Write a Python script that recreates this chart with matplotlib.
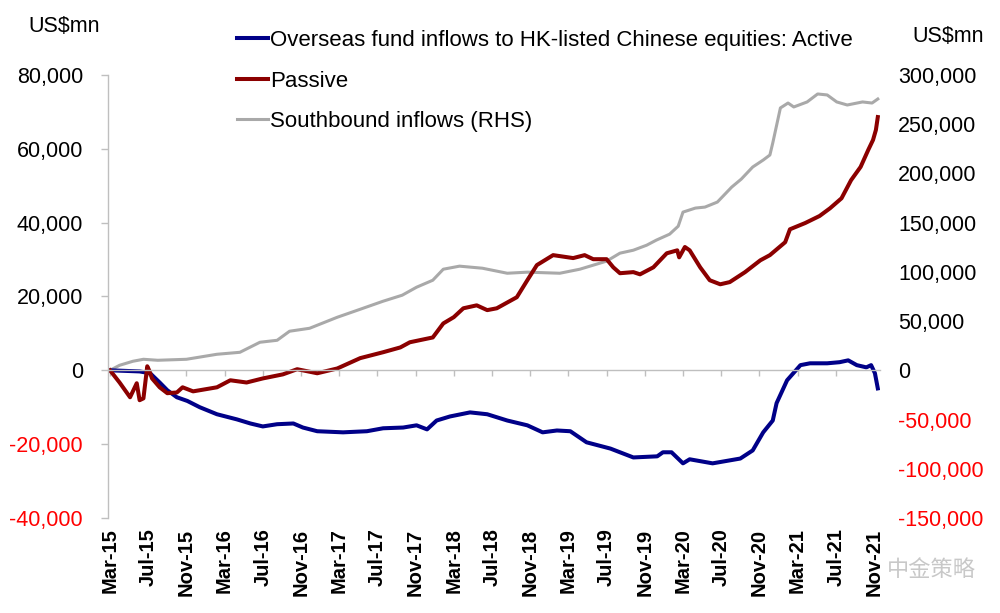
import matplotlib
matplotlib.use("Agg")
import matplotlib.pyplot as plt
import matplotlib.transforms as mtransforms
import numpy as np

# ---------------- data (x = months since Mar-2015) ----------------
x_labels = ["Mar-15", "Jul-15", "Nov-15", "Mar-16", "Jul-16", "Nov-16", "Mar-17",
            "Jul-17", "Nov-17", "Mar-18", "Jul-18", "Nov-18", "Mar-19", "Jul-19",
            "Nov-19", "Mar-20", "Jul-20", "Nov-20", "Mar-21", "Jul-21", "Nov-21"]
x_label_months = [0, 4, 8, 12, 16, 20, 24, 28, 32, 36, 40, 44, 48, 52, 56, 60, 64, 68, 72, 76, 80]

active_m = [0.0, 3.1, 4.2, 5.2, 6.0, 7.0, 8.1, 9.4, 11.2, 13.3, 14.7, 16.0, 17.5, 19.2,
            20.2, 21.7, 24.4, 26.9, 28.6, 30.7, 32.1, 33.2, 34.2, 35.6, 37.7, 39.5,
            41.6, 43.7, 45.3, 46.8, 48.2, 49.9, 52.4, 54.8, 57.3, 57.9, 58.8, 60.0,
            60.7, 63.1, 66.0, 67.3, 68.4, 69.4, 69.8, 70.9, 72.3, 73.3, 75.1, 76.4,
            77.3, 78.2, 79.2, 79.7, 80.1, 80.4]
active_v = [0, -300, -800, -3300, -5400, -7300, -8300, -10000, -11900, -13300, -14400,
            -15200, -14600, -14400, -15500, -16500, -16800, -16500, -15700, -15500,
            -14900, -16000, -13600, -12500, -11400, -11900, -13600, -14900, -16800,
            -16300, -16500, -19500, -21200, -23600, -23300, -22200, -22200, -25200,
            -24100, -25200, -23900, -21700, -16800, -13600, -8900, -2700, 1400, 1900,
            1900, 2200, 2700, 1400, 800, 1400, -800, -4900]

passive_m = [0.0, 1.0, 2.1, 2.8, 3.1, 3.5, 3.9, 4.1, 4.4, 5.2, 6.0, 7.0, 7.6, 8.4, 8.7,
             11.2, 12.6, 14.3, 16.0, 18.1, 19.6, 21.7, 23.8, 26.2, 28.6, 30.4, 31.4,
             33.8, 34.9, 36.0, 37.0, 38.4, 39.5, 40.5, 42.6, 43.7, 44.7, 46.4, 48.5,
             49.7, 50.6, 52.0, 52.7, 53.4, 54.8, 55.5, 56.9, 58.3, 59.4, 59.6, 60.2,
             60.7, 61.8, 62.8, 63.9, 64.9, 66.5, 68.1, 69.1, 70.7, 71.2, 72.8, 74.3,
             75.4, 76.6, 77.6, 78.6, 79.4, 79.9, 80.2, 80.4]
passive_v = [0, -3300, -7300, -3500, -8100, -7600, 1100, 0, -2200, -4600, -6200, -6000,
             -4600, -5400, -5700, -4600, -2700, -3300, -2200, -1100, 300, -800, 500,
             3300, 4900, 6200, 7600, 8900, 12700, 14400, 16800, 17600, 16300, 16800,
             19800, 24400, 28500, 31200, 30400, 31200, 30100, 30100, 27900, 26300,
             26600, 26000, 27900, 31700, 32500, 30600, 33400, 32500, 27900, 24400,
             23300, 23900, 26600, 29800, 31200, 34700, 38200, 39900, 41800, 43900,
             46600, 51500, 55100, 59700, 62400, 65100, 68600]

south_m = [0.0, 1.0, 2.4, 3.5, 5.0, 8.0, 11.2, 13.6, 15.7, 17.5, 18.8, 20.9, 23.8, 25.9,
           28.6, 30.6, 32.1, 33.8, 34.9, 36.6, 39.0, 41.6, 43.7, 47.1, 49.2, 52.0, 53.4,
           54.8, 56.2, 57.2, 58.6, 59.5, 60.0, 61.3, 62.3, 63.6, 64.4, 65.1, 66.1, 67.3,
           68.4, 69.1, 69.4, 70.2, 71.0, 71.6, 73.0, 74.1, 75.1, 76.1, 77.2, 78.8, 79.8,
           80.4]
south_v = [0, 5100, 9200, 11200, 10200, 11200, 16300, 18300, 28500, 30500, 39700, 42700,
           53900, 61000, 70200, 76300, 84400, 91500, 102700, 105800, 103700, 98600,
           99700, 98600, 102700, 110900, 119000, 122000, 127100, 132200, 138300, 146400,
           160700, 164800, 165800, 170900, 179000, 186100, 194200, 206500, 213600,
           218700, 230900, 266500, 271500, 267500, 272600, 280700, 279700, 272600,
           269500, 272600, 271500, 275600]

left_ticks = [-40000, -20000, 0, 20000, 40000, 60000, 80000]
right_ticks = [-150000, -100000, -50000, 0, 50000, 100000, 150000, 200000, 250000, 300000]

series_names = ["Overseas fund inflows to HK-listed Chinese equities: Active",
                "Passive", "Southbound inflows (RHS)"]

# ---------------- style ----------------
FONT = "Liberation Sans"
plt.rcParams["font.family"] = [FONT, "DejaVu Sans"]
FS = 15.5
C_ACT = "#000088"
C_PAS = "#8B0000"
C_SOU = "#A9A9A9"
C_AX = "#BFBFBF"
C_NEG = "#FF0000"

fig = plt.figure(figsize=(10, 6.13), dpi=100)
ax = fig.add_axes([0.108, 0.155, 0.772, 0.7227])
ax2 = ax.twinx()

ax.set_zorder(ax2.get_zorder() + 1)
ax.patch.set_visible(False)

l3, = ax2.plot(south_m, south_v, color=C_SOU, lw=2.2, solid_joinstyle="round")
l1, = ax.plot(active_m, active_v, color=C_ACT, lw=2.9, solid_joinstyle="round")
l2, = ax.plot(passive_m, passive_v, color=C_PAS, lw=2.9, solid_joinstyle="round")

ax.set_xlim(-0.21, 80.63)
ax.set_ylim(-40000, 80000)
ax2.set_ylim(-150000, 300000)

# spines
for s in ["top", "right"]:
    ax.spines[s].set_visible(False)
for s in ["top", "right", "left", "bottom"]:
    ax2.spines[s].set_visible(False)
ax.spines["left"].set_color(C_AX)
ax.spines["left"].set_linewidth(1.0)
ax.spines["bottom"].set_position(("data", 0))
ax.spines["bottom"].set_color(C_AX)
ax.spines["bottom"].set_linewidth(1.0)

# x ticks on zero line, labels at bottom
ax.set_xticks(x_label_months)
ax.tick_params(axis="x", direction="out", length=4, width=1, color=C_AX, labelbottom=False)
trans = mtransforms.blended_transform_factory(ax.transData, ax.transAxes)
for m, lab in zip(x_label_months, x_labels):
    ax.text(m, -0.024, lab, transform=trans, rotation=90, ha="center", va="top",
            fontsize=14.5, fontweight="bold", color="black")

# left y
ax.set_yticks(left_ticks)
ax.set_yticklabels([f"{v:,.0f}" for v in left_ticks], fontsize=FS)
ax.tick_params(axis="y", direction="out", length=5, width=1, color=C_AX, pad=13)
for t, v in zip(ax.get_yticklabels(), left_ticks):
    t.set_color(C_NEG if v < 0 else "black")

# right y
ax2.set_yticks(right_ticks)
ax2.set_yticklabels([f"{v:,.0f}" for v in right_ticks], fontsize=FS)
ax2.tick_params(axis="y", length=0, pad=13)
for t, v in zip(ax2.get_yticklabels(), right_ticks):
    t.set_color(C_NEG if v < 0 else "black")

# unit labels
fig.text(0.028, 1 - 27 / 613, "US$mn", fontsize=FS, ha="left", va="center")
fig.text(0.912, 1 - 36 / 613, "US$mn", fontsize=FS, ha="left", va="center")

# legend
leg = fig.legend([l1, l2, l3], series_names, loc="upper left",
                 bbox_to_anchor=(0.237, 1 - 30 / 613), frameon=False, fontsize=16,
                 handlelength=1.4, handletextpad=0.1, labelspacing=0.88,
                 borderpad=0, borderaxespad=0)

# watermark
fig.text(0.887, 1 - 570 / 613, "中金策略", fontsize=16, color="#C8C8C8",
         ha="left", va="center", family=["Noto Sans CJK SC", "DejaVu Sans"])

fig.savefig("out.png", dpi=100)
